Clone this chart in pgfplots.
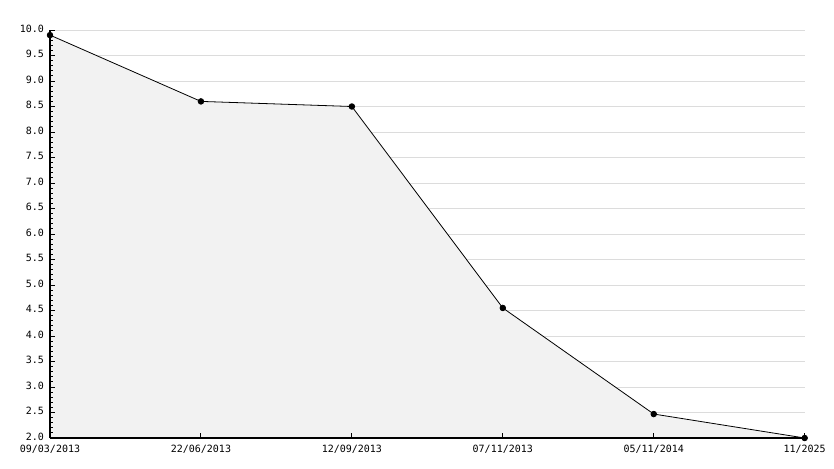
\documentclass[border=0pt]{standalone}
\usepackage{fontspec}
\setmonofont{DejaVu Sans Mono}
\usepackage{pgfplots}
\pgfplotsset{compat=1.18}
\definecolor{areagray}{HTML}{F2F2F2}
\definecolor{gridgray}{HTML}{DCDCDC}
% grid under the filled area, ticks and axis lines above it
\pgfplotsset{
    layers/gridunder/.define layer set={
        axis background,axis grid,main,axis ticks,axis lines,axis tick labels,
        axis descriptions,axis foreground
    }{/pgfplots/layers/standard},
}
\begin{document}
\begin{tikzpicture}
\begin{axis}[
    set layers=gridunder,
    scale only axis,
    width=566pt, height=306pt,
    xmin=0, xmax=5,
    ymin=2, ymax=10,
    axis x line=bottom, axis y line=left,
    axis line style={-, black, line width=0.8pt},
    xtick={0,1,2,3,4,5},
    xticklabels={09/03/2013,22/06/2013,12/09/2013,07/11/2013,05/11/2014,11/2025},
    ytick={2,2.5,...,10},
    minor ytick={2.1,2.2,...,9.95},
    yticklabel={\pgfmathprintnumber[fixed,fixed zerofill,precision=1]{\tick}},
    /pgf/number format/assume math mode=true,
    tick label style={font=\ttfamily\fontsize{7.5}{9}\selectfont, black},
    tick align=inside,
    major tick length=4pt, minor tick length=2.5pt,
    major tick style={black, line width=0.7pt},
    minor tick style={black, line width=0.7pt},
    ymajorgrids,
    major grid style={gridgray, line width=0.6pt},
    yticklabel style={xshift=-1pt, yshift=1pt},
    xticklabel style={yshift=-1.5pt},
    clip=false,
]
\addplot[fill=areagray, draw=none] coordinates {
    (0,9.9) (1,8.6) (2,8.5) (3,4.55) (4,2.47) (5,2.0)
} \closedcycle;
\addplot[black, line width=0.6pt, mark=*, mark size=2.1pt] coordinates {
    (0,9.9) (1,8.6) (2,8.5) (3,4.55) (4,2.47) (5,2.0)
};
\end{axis}
\path (current axis.origin) ++(-37.5pt,-22.5pt) coordinate (bl);
\path (bl) ++(625.5pt,351pt) coordinate (tr);
\path[use as bounding box] (bl) rectangle (tr);
\end{tikzpicture}
\end{document}
